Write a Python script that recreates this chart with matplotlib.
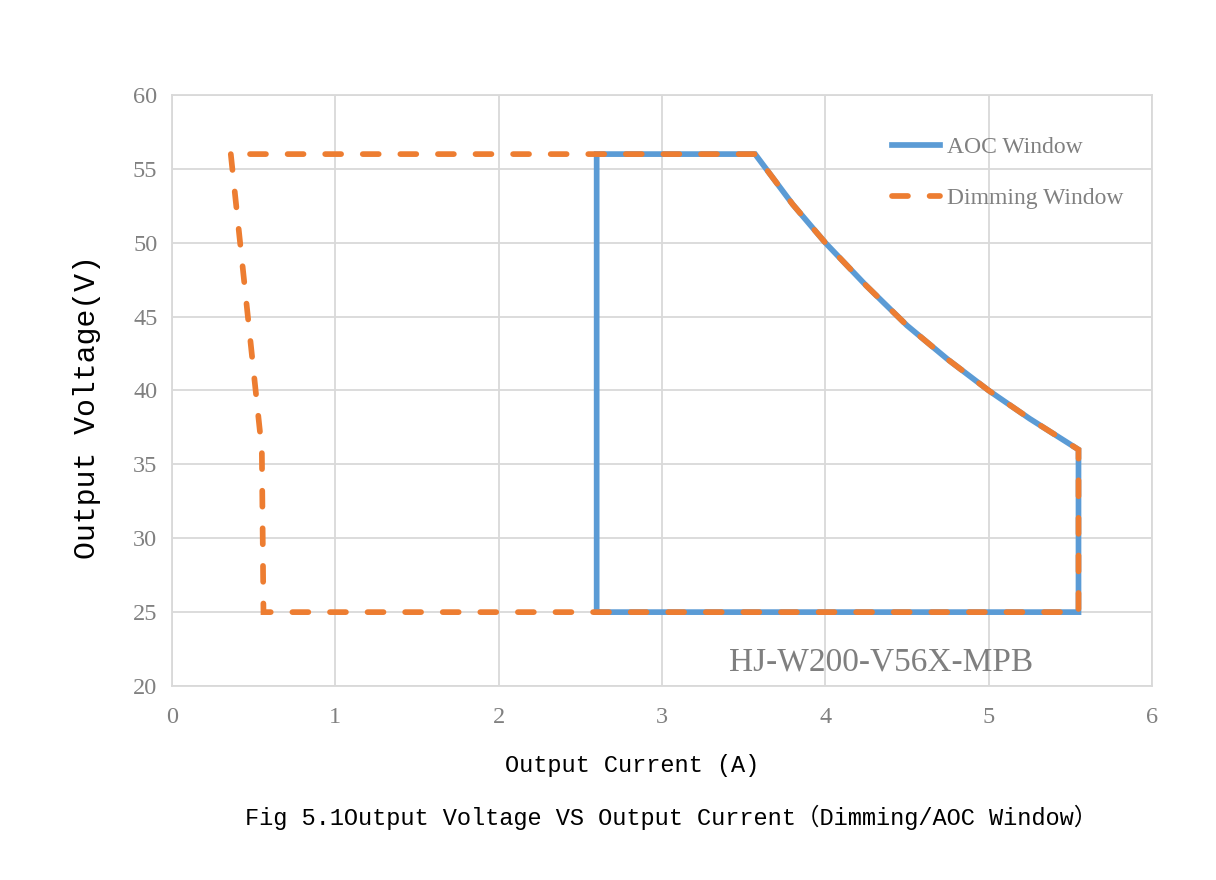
import numpy as np
import matplotlib.pyplot as plt

# AOC window outline (current A, voltage V)
aoc_current = [2.60, 2.60, 3.57, 3.80, 4.00, 4.25, 4.50, 4.75, 5.00, 5.25, 5.55, 5.55, 2.60]
aoc_voltage = [25.0, 56.0, 56.0, 52.6, 50.0, 47.1, 44.4, 42.1, 40.0, 38.1, 36.0, 25.0, 25.0]

# Dimming window outline
dim_current = [0.36, 0.55, 0.56, 5.55, 5.55, 5.25, 5.00, 4.75, 4.50, 4.25, 4.00, 3.80, 3.57, 0.36]
dim_voltage = [56.0, 36.0, 25.0, 25.0, 36.0, 38.1, 40.0, 42.1, 44.4, 47.1, 50.0, 52.6, 56.0, 56.0]

x_ticks = [0, 1, 2, 3, 4, 5, 6]
y_ticks = [20, 25, 30, 35, 40, 45, 50, 55, 60]

blue = '#5B9BD5'
orange = '#ED7D31'
grid_c = '#D9D9D9'
gray = '#808080'

fig = plt.figure(figsize=(12.16, 8.8), dpi=100)
ax = fig.add_axes([172 / 1216, 1 - 686 / 880, 980 / 1216, 591 / 880])

ax.plot(aoc_current, aoc_voltage, color=blue, lw=4.1, solid_joinstyle='miter',
        label='AOC Window', zorder=3)
ax.plot(dim_current, dim_voltage, color=orange, lw=4.1, dashes=(2.8, 3.8),
        dash_capstyle='round', dash_joinstyle='miter', label='Dimming Window', zorder=4)

ax.set_xlim(0, 6)
ax.set_ylim(20, 60)
ax.set_xticks(x_ticks)
ax.set_yticks(y_ticks)
ax.grid(True, color=grid_c, lw=1.3)
ax.set_axisbelow(True)
for s in ax.spines.values():
    s.set_color(grid_c)
    s.set_linewidth(1.3)
ax.tick_params(length=0, labelcolor=gray, labelsize=17.5)
ax.tick_params(axis='x', pad=15)
ax.tick_params(axis='y', pad=10.5)
for lab in ax.get_xticklabels() + ax.get_yticklabels():
    lab.set_family('Liberation Serif')

mono = ['Liberation Mono', 'Noto Sans CJK SC']
ax.set_xlabel('Output Current (A)', family=mono, fontsize=17)
ax.set_ylabel('Output Voltage(V)', family=mono, fontsize=21.5)
ax.xaxis.set_label_coords(0.470, -0.134)
ax.yaxis.set_label_coords(-0.087, 0.472)
ax.xaxis.label.set_va('center')
ax.yaxis.label.set_va('center')

ax.text(4.34, 21.6, 'HJ-W200-V56X-MPB', family='Liberation Serif', fontsize=24,
        color='#7F7F7F', ha='center', va='center')

leg = ax.legend(loc='upper left', bbox_to_anchor=(0.735, 0.93), frameon=False,
                handlelength=2.0, handletextpad=0.3, labelspacing=1.25, borderpad=0,
                borderaxespad=0, prop={'family': 'Liberation Serif', 'size': 17})
for t in leg.get_texts():
    t.set_color(gray)

fig.text(671 / 1216, 1 - 817 / 880, 'Fig 5.1Output Voltage VS Output Current（Dimming/AOC Window）',
         family=mono, fontsize=17, ha='center', va='center')

fig.savefig('out.png', dpi=100)
